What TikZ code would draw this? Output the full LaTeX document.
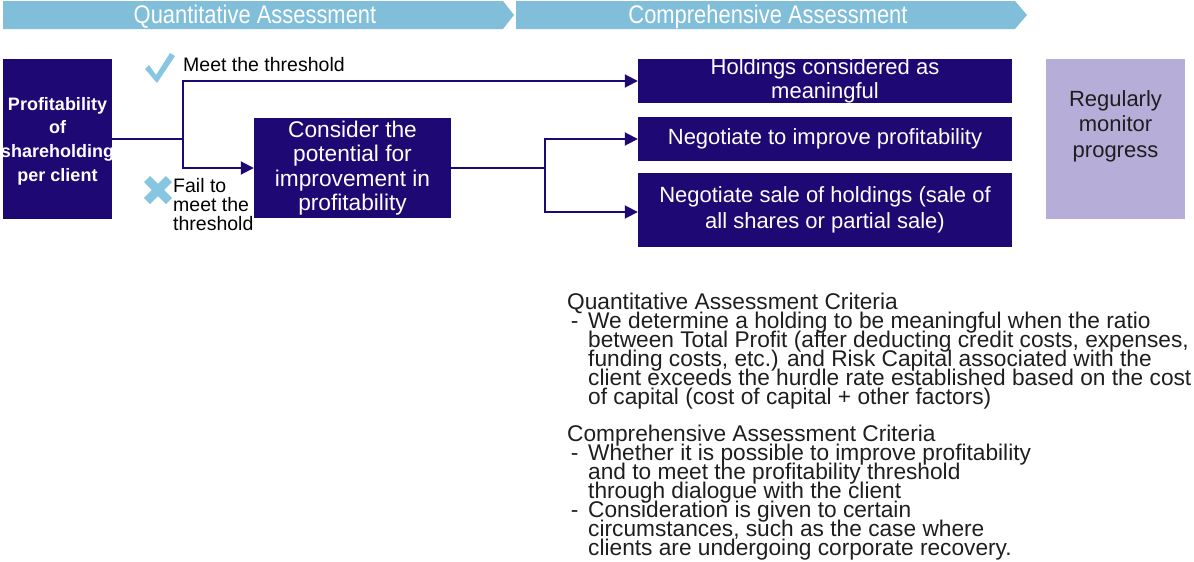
\documentclass[tikz,border=0pt]{standalone}
\usepackage{fontspec}
\setmainfont{Liberation Sans}
\newfontfamily\bannerfont[FakeStretch=0.86]{Liberation Sans}
\usetikzlibrary{arrows.meta}
\definecolor{navy}{RGB}{30,8,115}
\definecolor{bannerblue}{RGB}{128,190,218}
\definecolor{lavender}{RGB}{182,174,216}
\definecolor{markblue}{RGB}{135,198,224}
\definecolor{ink}{RGB}{30,30,30}
\newcommand{\fs}[2]{\fontsize{#1}{#2}\selectfont\lineskiplimit=-40pt\relax}
\begin{document}
\begin{tikzpicture}[x=1pt,y=-1pt,
  navybox/.style={fill=navy, draw=none, inner sep=0pt, text=white, align=center},
  flow/.style={draw=navy, line width=1.9pt},
  flowarrow/.style={flow, -{Triangle[length=13pt,width=13pt]}},
  bannertext/.style={text=white, inner sep=0pt, font=\bannerfont\fs{25.5}{28}},
  smalllabel/.style={text=black, inner sep=0pt, align=left, font=\fs{19.5}{19}}]
\useasboundingbox (0,0) rectangle (1194,562);

% stage banners
\fill[bannerblue] (3,1) -- (503,1) -- (514,15) -- (503,29) -- (3,29) -- cycle;
\fill[bannerblue] (516,1) -- (1015,1) -- (1027,15) -- (1015,29) -- (516,29) -- cycle;
\node[bannertext] (qa) at (255,17) {Quantitative Assessment};
\node[bannertext] (ca) at (768,17) {Comprehensive Assessment};

% flow boxes
\node[navybox, minimum width=109pt, minimum height=160pt]
  (prof) at (57.5,139) {};
\node[text=white, align=center, inner sep=0pt, font=\bfseries\fs{18}{23.7}]
  (proftext) at ([yshift=-2pt]prof.center) {Profitability\\of\\shareholding\\per client};
\node[navybox, minimum width=197pt, minimum height=100pt, font=\fs{22.7}{24.5}]
  (cons) at (352.5,168) {Consider the\\potential for\\improvement in\\profitability};
\node[navybox, minimum width=374pt, minimum height=44pt, font=\fs{22}{24}]
  (hold) at (825,81) {Holdings considered as\\meaningful};
\node[navybox, minimum width=374pt, minimum height=44pt, font=\fs{22}{24}]
  (nimp) at (825,139) {Negotiate to improve profitability};
\node[navybox, minimum width=374pt, minimum height=74pt, font=\fs{22}{26}]
  (nsale) at (825,210) {Negotiate sale of holdings (sale of\\all shares or partial sale)};
\node[fill=lavender, inner sep=0pt, minimum width=139pt, minimum height=160pt]
  (mon) at (1115.5,139) {};
\node[text=ink, align=center, inner sep=0pt, font=\fs{22}{25.5}]
  (montext) at ([yshift=13pt]mon.center) {Regularly\\monitor\\progress};

% branch junctions
\coordinate (j1) at (183,139);
\coordinate (j2) at (545,168);

% connectors
\draw[flow] (prof.east) -- (j1);
\draw[flowarrow] (j1) |- (hold.west);
\draw[flowarrow] (j1) |- (cons.west);
\draw[flow] (cons.east) -- (j2);
\draw[flowarrow] (j2) |- (nimp.west);
\draw[flowarrow] (j2) |- ([yshift=-2pt]nsale.west);

% outcome marks and labels
\fill[markblue] (145,69) -- (149,65) -- (156,75) -- (170,53) -- (175,56) -- (157,83) -- cycle;
\draw[markblue, line width=8.5pt] (147,179) -- (169,201) (147,201) -- (169,179);
\node[smalllabel, anchor=west] (meet) at (183,65) {Meet the threshold};
\node[smalllabel, anchor=north west] (fail) at (173,178) {Fail to\\meet the\\threshold};

% assessment criteria notes
\node[anchor=base west, inner sep=0pt, text=ink] (qcrit) at (567,309)
  {\parbox[t]{700pt}{\raggedright\fs{22.7}{19}%
   Quantitative Assessment Criteria\\
   \makebox[21pt][l]{\,-}We determine a holding to be meaningful when the ratio\\
   \hspace*{21pt}between Total Profit (after deducting credit costs, expenses,\\
   \hspace*{21pt}funding costs, etc.) and Risk Capital associated with the\\
   \hspace*{21pt}client exceeds the hurdle rate established based on the cost\\
   \hspace*{21pt}of capital (cost of capital + other factors)}};
\node[anchor=base west, inner sep=0pt, text=ink] (ccrit) at (567,441)
  {\parbox[t]{700pt}{\raggedright\fs{22.7}{19}%
   Comprehensive Assessment Criteria\\
   \makebox[21pt][l]{\,-}Whether it is possible to improve profitability\\
   \hspace*{21pt}and to meet the profitability threshold\\
   \hspace*{21pt}through dialogue with the client\\
   \makebox[21pt][l]{\,-}Consideration is given to certain\\
   \hspace*{21pt}circumstances, such as the case where\\
   \hspace*{21pt}clients are undergoing corporate recovery.}};
\end{tikzpicture}
\end{document}
